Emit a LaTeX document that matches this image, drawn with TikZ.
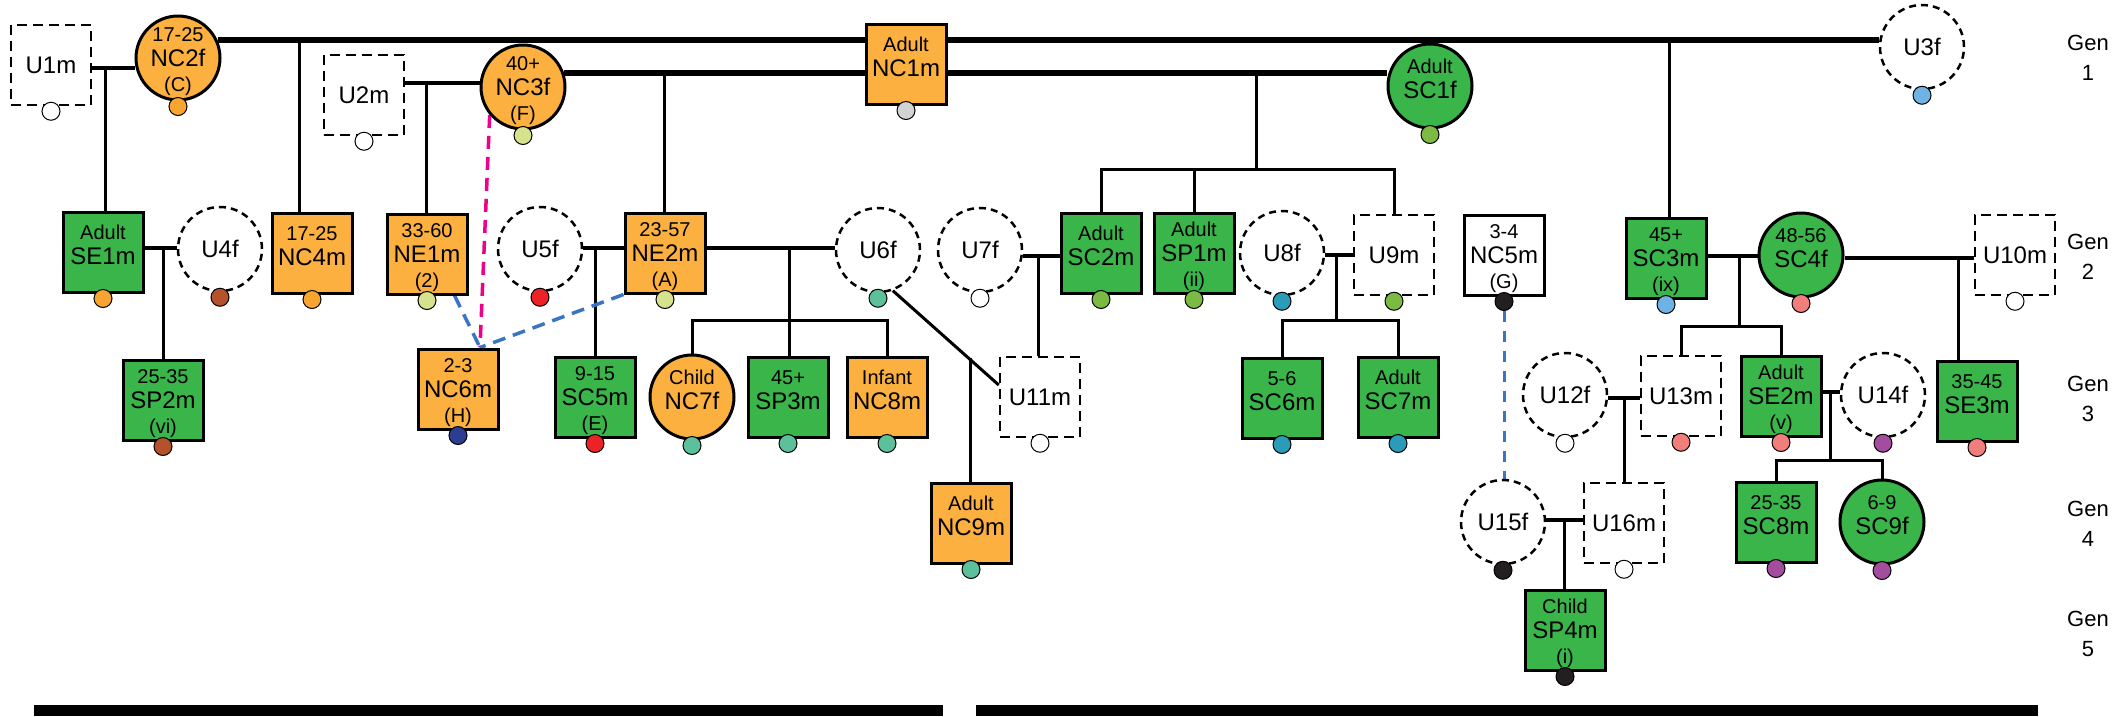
\documentclass[tikz,border=0pt]{standalone}
\usepackage{fontspec}
\setmainfont{Liberation Sans}
\usetikzlibrary{backgrounds,calc}
\definecolor{org}{HTML}{FBB040}
\definecolor{grn}{HTML}{39B54A}
\definecolor{dorg}{HTML}{F7A530}
\definecolor{brn}{HTML}{B5522B}
\definecolor{lgrn}{HTML}{D7E28C}
\definecolor{redd}{HTML}{EC2227}
\definecolor{dblu}{HTML}{2D3E91}
\definecolor{tealc}{HTML}{5CC09B}
\definecolor{gry}{HTML}{D1D3D4}
\definecolor{grnd}{HTML}{7BBA43}
\definecolor{tblu}{HTML}{2A9CB8}
\definecolor{lblu}{HTML}{6EB3E4}
\definecolor{blk}{HTML}{231F20}
\definecolor{pnk}{HTML}{F27E7C}
\definecolor{prp}{HTML}{A44C9E}
\definecolor{mag}{HTML}{EC008C}
\definecolor{dashblue}{HTML}{3A75C4}
\newcommand\namef{\fontsize{24}{25}\selectfont}
\newcommand\agef{\fontsize{20}{24}\selectfont}
\newcommand\dn{\rule[-14pt]{0pt}{14pt}}
\newcommand\upr{\rule{0pt}{22pt}}
\newcommand\three[3]{{\agef\upr #1}\\#2\\{\agef #3}}
\newcommand\two[2]{{\agef #1}\\#2\dn}
\tikzset{
 lab/.style={align=center,font=\namef,inner sep=0pt},
 psq/.style={draw=black,line width=3pt,rectangle,minimum width=80pt,minimum height=80pt,inner sep=0pt},
 prd/.style={draw=black,line width=3pt,circle,minimum size=84pt,inner sep=0pt},
 usq/.style={draw=black,line width=2.5pt,dash pattern=on 10pt off 6pt,rectangle,minimum width=80pt,minimum height=80pt,inner sep=0pt,fill=white},
 urd/.style={draw=black,line width=2.5pt,dash pattern=on 7pt off 5pt,circle,minimum size=84pt,inner sep=0pt,fill=white},
 dotc/.style={circle,draw=black,line width=1pt,minimum size=18pt,inner sep=0pt},
 thk/.style={line width=6pt},
 mar/.style={line width=4pt},
 des/.style={line width=3pt},
 pinkd/.style={draw=mag,line width=3.5pt,dash pattern=on 13pt off 8pt},
 blued/.style={draw=dashblue,line width=3.5pt,dash pattern=on 13pt off 8pt},
 genl/.style={align=center,font=\fontsize{22}{30}\selectfont,inner sep=0pt},
}
\newcommand\person[5]{\node[#1,label={[lab]center:{#4}}] (#2) at (#3) {};
 \node[dotc,fill=#5] (#2d) at ([yshift=-5pt]#2.south) {};}
\begin{document}
\begin{tikzpicture}[x=1pt,y=-1pt]
\useasboundingbox (0,0) rectangle (2118,716);
% Gen 1
\person{usq}{U1m}{51,65}{U1m}{white}
\person{prd,fill=org}{NC2f}{178,58}{\three{17-25}{NC2f}{(C)}}{dorg}
\person{usq}{U2m}{364,95}{U2m}{white}
\person{prd,fill=org}{NC3f}{523,87}{\three{40+}{NC3f}{(F)}}{lgrn}
\person{psq,fill=org}{NC1m}{906,64}{\two{Adult}{NC1m}}{gry}
\person{prd,fill=grn}{SC1f}{1430,86}{\two{Adult}{SC1f}}{grnd}
\person{urd}{U3f}{1922,47}{U3f}{lblu}
% Gen 2
\person{psq,fill=grn}{SE1m}{103,252}{\two{Adult}{SE1m}}{dorg}
\person{urd}{U4f}{220,249}{U4f}{brn}
\person{psq,fill=org}{NC4m}{312,253}{\two{17-25}{NC4m}}{dorg}
\person{psq,fill=org}{NE1m}{427,254}{\three{33-60}{NE1m}{(2)}}{lgrn}
\person{urd}{U5f}{540,249}{U5f}{redd}
\person{psq,fill=org}{NE2m}{665,253}{\three{23-57}{NE2m}{(A)}}{lgrn}
\person{urd}{U6f}{878,250}{U6f}{tealc}
\person{urd}{U7f}{980,250}{U7f}{white}
\person{psq,fill=grn}{SC2m}{1101,253}{\two{Adult}{SC2m}}{grnd}
\person{psq,fill=grn}{SP1m}{1194,253}{\three{Adult}{SP1m}{(ii)}}{grnd}
\person{urd}{U8f}{1282,253}{U8f}{tblu}
\person{usq}{U9m}{1394,255}{U9m}{grnd}
\person{psq,fill=white}{NC5m}{1504,255}{\three{3-4}{NC5m}{(G)}}{blk}
\person{psq,fill=grn}{SC3m}{1666,258}{\three{45+}{SC3m}{(ix)}}{lblu}
\person{prd,fill=grn}{SC4f}{1801,255}{\two{48-56}{SC4f}}{pnk}
\person{usq}{U10m}{2015,255}{U10m}{white}
% Gen 3
\person{psq,fill=grn}{SP2m}{163,400}{\three{25-35}{SP2m}{(vi)}}{brn}
\person{psq,fill=org}{NC6m}{458,389}{\three{2-3}{NC6m}{(H)}}{dblu}
\person{psq,fill=grn}{SC5m}{595,397}{\three{9-15}{SC5m}{(E)}}{redd}
\person{prd,fill=org}{NC7f}{692,397}{\two{Child}{NC7f}}{tealc}
\person{psq,fill=grn}{SP3m}{788,397}{\two{45+}{SP3m}}{tealc}
\person{psq,fill=org}{NC8m}{887,397}{\two{Infant}{NC8m}}{tealc}
\person{usq}{U11m}{1040,397}{U11m}{white}
\person{psq,fill=grn}{SC6m}{1282,398}{\two{5-6}{SC6m}}{tblu}
\person{psq,fill=grn}{SC7m}{1398,397}{\two{Adult}{SC7m}}{tblu}
\person{urd}{U12f}{1565,395}{U12f}{white}
\person{usq}{U13m}{1681,396}{U13m}{pnk}
\person{psq,fill=grn}{SE2m}{1781,396}{\three{Adult}{SE2m}{(v)}}{pnk}
\person{urd}{U14f}{1883,395}{U14f}{prp}
\person{psq,fill=grn}{SE3m}{1977,401}{\two{35-45}{SE3m}}{pnk}
% Gen 4
\person{psq,fill=org}{NC9m}{971,523}{\two{Adult}{NC9m}}{tealc}
\person{urd}{U15f}{1503,522}{U15f}{blk}
\person{usq}{U16m}{1624,523}{U16m}{white}
\person{psq,fill=grn}{SC8m}{1776,522}{\two{25-35}{SC8m}}{prp}
\person{prd,fill=grn}{SC9f}{1882,522}{\two{6-9}{SC9f}}{prp}
% Gen 5
\person{psq,fill=grn}{SP4m}{1565,630}{\three{Child}{SP4m}{(i)}}{blk}
% generation labels
\node[genl] (G1) at (2088,58) {Gen\\1};
\node[genl] (G2) at (2088,257) {Gen\\2};
\node[genl] (G3) at (2088,399) {Gen\\3};
\node[genl] (G4) at (2088,524) {Gen\\4};
\node[genl] (G5) at (2088,634) {Gen\\5};
% junctions
\coordinate (c1) at (105,68);
\coordinate (c2) at (299,41);
\coordinate (c3) at (426,83);
\coordinate (c4) at (664,73);
\coordinate (c5) at (1256,73);
\coordinate (c5b) at (1256,169);
\coordinate (c6) at (1669,41);
\coordinate (c7) at (163,248);
\coordinate (c8) at (595,248);
\coordinate (c9) at (789,248);
\coordinate (c9b) at (789,320);
\coordinate (c10) at (1038,256);
\coordinate (c11) at (1336,255);
\coordinate (c11b) at (1336,320);
\coordinate (c12) at (1739,256);
\coordinate (c12b) at (1739,326);
\coordinate (c13) at (1958,258);
\coordinate (c14) at (1624,398);
\coordinate (c15) at (1830,392);
\coordinate (c15b) at (1830,460);
\coordinate (c16) at (1564,520);
\coordinate (c17) at (970,358);
\begin{pgfonlayer}{background}
\draw[thk] (NC2f.24) -- (NC2f.24 -| U3f.west);
\draw[thk] (NC3f.19) -- (NC3f.19 -| SC1f.west);
\draw[mar] ([yshift=-3pt]U1m.east) -- ([yshift=-3pt]U1m.east -| NC2f.west);
\draw[mar] ([yshift=12pt]U2m.east) -- ([yshift=12pt]U2m.east -| NC3f.west);
\draw[mar] ([yshift=4pt]SE1m.east) -- ([yshift=4pt]SE1m.east -| U4f.west);
\draw[mar] ([yshift=1pt]U5f.east) -- ([yshift=1pt]U5f.east -| NE2m.west);
\draw[mar] ([yshift=5pt]NE2m.east) -- ([yshift=5pt]NE2m.east -| U6f.west);
\draw[mar] ([yshift=-6pt]U7f.east) -- ([yshift=-6pt]U7f.east -| SC2m.west);
\draw[mar] ([yshift=-2pt]U8f.east) -- ([yshift=-2pt]U8f.east -| U9m.west);
\draw[mar] ([yshift=2pt]SC3m.east) -- ([yshift=2pt]SC3m.east -| SC4f.west);
\draw[mar] ([yshift=-3pt]SC4f.east) -- ([yshift=-3pt]SC4f.east -| U10m.west);
\draw[mar] ([yshift=-3pt]U12f.east) -- ([yshift=-3pt]U12f.east -| U13m.west);
\draw[mar] ([yshift=4pt]SE2m.east) -- ([yshift=4pt]SE2m.east -| U14f.west);
\draw[mar] ([yshift=2pt]U15f.east) -- ([yshift=2pt]U15f.east -| U16m.west);
\draw[des] (U6f.-70) -- ([yshift=12pt]U11m.west);
\draw[des] (c1) -- (c1 |- SE1m.north);
\draw[des] (c2) -- (c2 |- NC4m.north);
\draw[des] (c3) -- (c3 |- NE1m.north);
\draw[des] (c4) -- (c4 |- NE2m.north);
\draw[des] (c5) -- (c5b);
\draw[des] (SC2m.north) |- (c5b) -| (U9m.north);
\draw[des] (SP1m.north) -- (SP1m.north |- c5b);
\draw[des] (c6) -- (c6 |- SC3m.north);
\draw[des] (c7) -- (c7 |- SP2m.north);
\draw[des] (c8) -- (c8 |- SC5m.north);
\draw[des] (c9) -- (c9 |- SP3m.north);
\draw[des] (NC7f.north) |- (c9b) -| (NC8m.north);
\draw[des] (c10) -- (c10 |- U11m.north);
\draw[des] (c11) -- (c11b);
\draw[des] (SC6m.north) |- (c11b) -| (SC7m.north);
\draw[des] (c12) -- (c12b);
\draw[des] (U13m.north) |- (c12b) -| (SE2m.north);
\draw[des] (c13) -- (c13 |- SE3m.north);
\draw[des] (c14) -- (c14 |- U16m.north);
\draw[des] (c15) -- (c15b);
\draw[des] (SC8m.north) |- (c15b) -| (SC9f.north);
\draw[des] (c16) -- (c16 |- SP4m.north);
\draw[des] (c17) -- (c17 |- NC9m.north);
\draw[pinkd] (NC3f.-140) -- ([xshift=22pt]NC6m.north);
\draw[blued] ([xshift=-14pt]NE1m.south east) -- ([xshift=22pt]NC6m.north);
\draw[blued] (NE2m.south west) -- ([xshift=22pt]NC6m.north);
\draw[blued,line width=3pt,dash pattern=on 11pt off 9pt] (NC5md.south) -- (NC5md.south |- U15f.north);
\end{pgfonlayer}
\fill[black] (34,705) rectangle (943,716);
\fill[black] (976,705) rectangle (2038,716);
\end{tikzpicture}
\end{document}
